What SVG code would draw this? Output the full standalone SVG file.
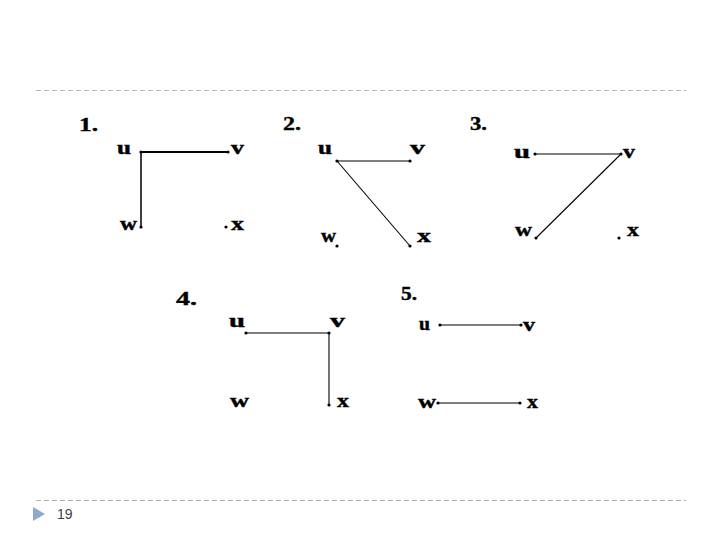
<svg xmlns="http://www.w3.org/2000/svg" width="720" height="540" viewBox="0 0 720 540">
<style>
.lbl{font-family:"Liberation Serif","Times New Roman",serif;font-weight:bold;font-size:18px;fill:#000;stroke:#000;stroke-width:0.4}
.num{font-family:"Liberation Serif","Times New Roman",serif;font-weight:bold;font-size:19px;fill:#000;stroke:#000;stroke-width:0.4}
.e{stroke:#000;stroke-width:1.1;fill:none}
.e2{stroke:#000;stroke-width:2;fill:none}
.dot{fill:#000}
.rule{stroke:#b4b4b4;stroke-width:1;stroke-dasharray:5 3;fill:none}
.pg{font-family:"Liberation Sans",Arial,sans-serif;font-size:14px;fill:#404040}
</style>
<rect width="720" height="540" fill="#fff"/>
<g id="frame">
<line class="rule" x1="36" y1="90.5" x2="686" y2="90.5"/>
<line class="rule" x1="36" y1="500.5" x2="686" y2="500.5"/>
<polygon points="33,507 45,514 33,521" fill="#8eaacb"/>
<text class="pg" x="57" y="519">19</text>
</g>
<g id="connectors">
<line class="e2" x1="141" y1="152" x2="228" y2="152"/>
<line class="e" x1="141" y1="152" x2="141" y2="227" style="stroke-width:1.5"/>
<line class="e" x1="337" y1="161" x2="410" y2="161"/>
<line class="e" x1="337" y1="161" x2="410" y2="246"/>
<line class="e" x1="535" y1="154" x2="621" y2="154"/>
<line class="e" x1="621" y1="154" x2="536" y2="238"/>
<line class="e" x1="246" y1="333" x2="329" y2="333"/>
<line class="e" x1="329" y1="333" x2="329" y2="405"/>
<line class="e" x1="440" y1="325" x2="521" y2="325"/>
<line class="e" x1="438" y1="403" x2="520" y2="403"/>
</g>
<g id="graph1">
<text class="num" x="79" y="131" textLength="19" lengthAdjust="spacingAndGlyphs">1.</text>
<g id="g1-u"><text class="lbl" x="117" y="154" textLength="14" lengthAdjust="spacingAndGlyphs">u</text><circle class="dot" cx="141" cy="152" r="1.6"/></g>
<g id="g1-v"><text class="lbl" x="231" y="154" textLength="13" lengthAdjust="spacingAndGlyphs">v</text><circle class="dot" cx="228" cy="152" r="1.6"/></g>
<g id="g1-w"><text class="lbl" x="120" y="230" textLength="17" lengthAdjust="spacingAndGlyphs">w</text><circle class="dot" cx="141" cy="227" r="1.6"/></g>
<g id="g1-x"><text class="lbl" x="231" y="230" textLength="13" lengthAdjust="spacingAndGlyphs">x</text><circle class="dot" cx="226" cy="227" r="1.6"/></g>
</g>
<g id="graph2">
<text class="num" x="283" y="130" textLength="18" lengthAdjust="spacingAndGlyphs">2.</text>
<g id="g2-u"><text class="lbl" x="318" y="154" textLength="14" lengthAdjust="spacingAndGlyphs">u</text><circle class="dot" cx="337" cy="161" r="1.6"/></g>
<g id="g2-v"><text class="lbl" x="410" y="154" textLength="15" lengthAdjust="spacingAndGlyphs">v</text><circle class="dot" cx="410" cy="161" r="1.6"/></g>
<g id="g2-w"><text class="lbl" x="321" y="242" textLength="15" lengthAdjust="spacingAndGlyphs">w</text><circle class="dot" cx="337" cy="246" r="1.6"/></g>
<g id="g2-x"><text class="lbl" x="417" y="242" textLength="14" lengthAdjust="spacingAndGlyphs">x</text><circle class="dot" cx="410" cy="246" r="1.6"/></g>
</g>
<g id="graph3">
<text class="num" x="470" y="130" textLength="17" lengthAdjust="spacingAndGlyphs">3.</text>
<g id="g3-u"><text class="lbl" x="514" y="158" textLength="16" lengthAdjust="spacingAndGlyphs">u</text><circle class="dot" cx="535" cy="154" r="1.6"/></g>
<g id="g3-v"><text class="lbl" x="623" y="158" textLength="12" lengthAdjust="spacingAndGlyphs">v</text><circle class="dot" cx="621" cy="154" r="1.6"/></g>
<g id="g3-w"><text class="lbl" x="515" y="236" textLength="17" lengthAdjust="spacingAndGlyphs">w</text><circle class="dot" cx="536" cy="238" r="1.6"/></g>
<g id="g3-x"><text class="lbl" x="627" y="236" textLength="12" lengthAdjust="spacingAndGlyphs">x</text><circle class="dot" cx="619" cy="238" r="1.6"/></g>
</g>
<g id="graph4">
<text class="num" x="176" y="305" textLength="21" lengthAdjust="spacingAndGlyphs">4.</text>
<g id="g4-u"><text class="lbl" x="229" y="327" textLength="16" lengthAdjust="spacingAndGlyphs">u</text><circle class="dot" cx="246" cy="333" r="1.6"/></g>
<g id="g4-v"><text class="lbl" x="330" y="327" textLength="15" lengthAdjust="spacingAndGlyphs">v</text><circle class="dot" cx="329" cy="333" r="1.6"/></g>
<g id="g4-w"><text class="lbl" x="230" y="407" textLength="19" lengthAdjust="spacingAndGlyphs">w</text></g>
<g id="g4-x"><text class="lbl" x="337" y="407" textLength="12" lengthAdjust="spacingAndGlyphs">x</text><circle class="dot" cx="329" cy="405" r="1.6"/></g>
</g>
<g id="graph5">
<text class="num" x="401" y="300" textLength="16" lengthAdjust="spacingAndGlyphs">5.</text>
<g id="g5-u"><text class="lbl" x="419" y="330" textLength="11" lengthAdjust="spacingAndGlyphs">u</text><circle class="dot" cx="440" cy="325" r="1.6"/></g>
<g id="g5-v"><text class="lbl" x="523" y="331" textLength="12" lengthAdjust="spacingAndGlyphs">v</text><circle class="dot" cx="521" cy="325" r="1.6"/></g>
<g id="g5-w"><text class="lbl" x="418" y="408" textLength="18" lengthAdjust="spacingAndGlyphs">w</text><circle class="dot" cx="438" cy="403" r="1.6"/></g>
<g id="g5-x"><text class="lbl" x="527" y="408" textLength="11" lengthAdjust="spacingAndGlyphs">x</text><circle class="dot" cx="520" cy="403" r="1.6"/></g>
</g>
</svg>
